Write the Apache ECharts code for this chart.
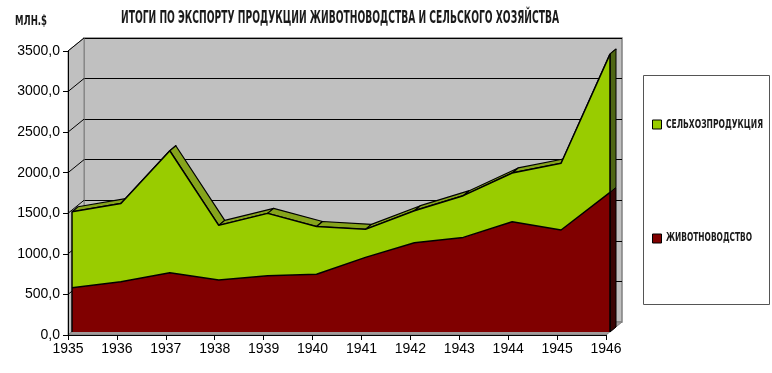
<!DOCTYPE html>
<html><head><meta charset="utf-8">
<script src="https://cdn.jsdelivr.net/npm/echarts@6/dist/echarts.min.js"></script>
<style>html,body{margin:0;padding:0;background:#fff}#c{width:772px;height:373px}</style>
</head><body><div id="c"></div>
<script>
const years = ['1935','1936','1937','1938','1939','1940','1941','1942','1943','1944','1945','1946'];
const livestock = [546, 620, 731, 641, 694, 711, 920, 1100, 1166, 1359, 1257, 1721];
const agri = [936, 965, 1503, 673, 768, 589, 345, 395, 514, 601, 823, 1704];
const yTicks = [0, 500, 1000, 1500, 2000, 2500, 3000, 3500];
const seriesNames = ['ЖИВОТНОВОДСТВО', 'СЕЛЬХОЗПРОДУКЦИЯ'];
const titleText = 'ИТОГИ ПО ЭКСПОРТУ ПРОДУКЦИИ ЖИВОТНОВОДСТВА И СЕЛЬСКОГО ХОЗЯЙСТВА';
const unitText = 'МЛН.$';

const totals = livestock.map((v, i) => v + agri[i]);
const NARROW = '"Liberation Sans Narrow","DejaVu Sans Condensed","Liberation Sans",sans-serif';
const WALL = [16, -13];
const RIB = [6, -5];

function fitScale(text, font, target) {
  const ctx = document.createElement('canvas').getContext('2d');
  ctx.font = font;
  return target / ctx.measureText(text).width;
}
const titleFont = 'bold 17px ' + NARROW;
const unitFont = 'bold 14px ' + NARROW;
const legFont = 'bold 13px ' + NARROW;

const chart = echarts.init(document.getElementById('c'), null, {renderer: 'canvas'});
const add = (p, d) => [p[0] + d[0], p[1] + d[1]];

function scaledText(text, font, x, y, width) {
  return {type: 'text', x: x, y: y, scaleX: fitScale(text, font, width), z: 10,
    style: {text: text, font: font, fill: '#1a1a1a', textVerticalAlign: 'middle'}};
}

chart.setOption({
  animation: false,
  backgroundColor: '#fff',
  graphic: [
    scaledText(titleText, titleFont, 121, 19, 438),
    scaledText(unitText, unitFont, 15, 21, 32),
    {type: 'rect', z: 0, shape: {x: 643.5, y: 75.5, width: 126, height: 229},
     style: {fill: '#fff', stroke: '#555', lineWidth: 1}},
    scaledText(seriesNames[1], legFont, 666, 124.5, 97),
    scaledText(seriesNames[0], legFont, 666, 237.5, 86)
  ],
  legend: {
    orient: 'vertical', left: 652, top: 119.5, itemGap: 104, padding: 0,
    itemWidth: 9, itemHeight: 9, icon: 'rect', z: 5,
    data: [seriesNames[1], seriesNames[0]],
    formatter: () => '',
    itemStyle: {borderColor: '#000', borderWidth: 1},
    textStyle: {fontSize: 9, lineHeight: 9, padding: 0}
  },
  grid: [
    {left: 68, top: 51, width: 538, height: 284, z: 5},
    {left: 84, top: 38, width: 538, height: 284, show: true, backgroundColor: '#c0c0c0', borderColor: '#808080', borderWidth: 1.5, z: 0},
    {left: 72, top: 48, width: 538, height: 284}
  ],
  xAxis: [
    {gridIndex: 0, type: 'category', data: years, boundaryGap: false, z: 6,
     axisLine: {lineStyle: {color: '#000', width: 1}},
     axisTick: {show: true, length: 5, lineStyle: {color: '#000'}},
     axisLabel: {color: '#000', fontSize: 14, fontFamily: 'Liberation Sans, Arial', margin: 7}},
    {gridIndex: 1, type: 'category', data: years, boundaryGap: false, show: false},
    {gridIndex: 2, type: 'category', data: years, boundaryGap: false, show: false}
  ],
  yAxis: [
    {gridIndex: 0, type: 'value', min: 0, max: 3500, interval: 500, z: 6,
     axisLine: {show: true, lineStyle: {color: '#000', width: 1}},
     axisTick: {show: true, length: 5, lineStyle: {color: '#000'}},
     splitLine: {show: false},
     axisLabel: {color: '#000', fontSize: 14, fontFamily: 'Liberation Sans, Arial', margin: 8,
       formatter: v => v.toFixed(1).replace('.', ',')}},
    {gridIndex: 1, type: 'value', min: 0, max: 3500, interval: 500,
     axisLine: {show: false}, axisTick: {show: false}, axisLabel: {show: false},
     splitLine: {show: true, lineStyle: {color: '#000', width: 1}}},
    {gridIndex: 2, type: 'value', min: 0, max: 3500, show: false, splitLine: {show: false}}
  ],
  series: [
    {
      type: 'custom', name: 'walls', xAxisIndex: 0, yAxisIndex: 0, z: 1, silent: true,
      data: yTicks.map(v => [0, v]),
      renderItem: (params, api) => {
        const p = api.coord([0, api.value(1)]);
        const children = [];
        if (params.dataIndex === 0) {
          const b = api.coord([0, 0]);
          const t = api.coord([0, yTicks[yTicks.length - 1]]);
          const rb = api.coord([years.length - 1, 0]);
          children.push({type: 'polygon', shape: {points: [t, add(t, WALL), add(b, WALL), b]},
            style: {fill: '#c0c0c0', stroke: '#808080', lineWidth: 1}});
          children.push({type: 'polygon', shape: {points: [b, add(b, WALL), add(rb, WALL), rb]},
            style: {fill: '#a09a9a', stroke: '#808080', lineWidth: 1}});
        }
        if (params.dataIndex > 0) {
          children.push({type: 'line', shape: {x1: p[0], y1: p[1], x2: p[0] + WALL[0], y2: p[1] + WALL[1]},
            style: {stroke: '#000', lineWidth: 1}});
        }
        return {type: 'group', children};
      }
    },
    {
      type: 'custom', name: 'ribbon', xAxisIndex: 2, yAxisIndex: 2, z: 2, silent: true,
      data: years.map((y, i) => [i, livestock[i], totals[i]]),
      renderItem: (params, api) => {
        const i = params.dataIndex;
        const n = years.length;
        const children = [];
        const top = api.coord([i, totals[i]]);
        if (i < n - 1) {
          const nt = api.coord([i + 1, totals[i + 1]]);
          children.push({type: 'polygon', shape: {points: [top, nt, add(nt, RIB), add(top, RIB)]},
            style: {fill: '#86a41c', stroke: '#000', lineWidth: 1.2, lineJoin: 'round'}});
        } else {
          const b = api.coord([i, 0]);
          const r = api.coord([i, livestock[i]]);
          children.push({type: 'polygon', shape: {points: [b, r, add(r, RIB), add(b, RIB)]},
            style: {fill: '#3a0505', stroke: '#000', lineWidth: 1}});
          children.push({type: 'polygon', shape: {points: [r, top, add(top, RIB), add(r, RIB)]},
            style: {fill: '#4e6614', stroke: '#000', lineWidth: 1}});
        }
        return {type: 'group', children};
      }
    },
    {
      name: seriesNames[0], type: 'line', stack: 'total', xAxisIndex: 2, yAxisIndex: 2, z: 3,
      data: livestock, symbol: 'none', silent: true,
      itemStyle: {color: '#800000'},
      lineStyle: {color: '#000', width: 1.5},
      areaStyle: {color: '#800000', opacity: 1}
    },
    {
      name: seriesNames[1], type: 'line', stack: 'total', xAxisIndex: 2, yAxisIndex: 2, z: 3,
      data: agri, symbol: 'none', silent: true,
      itemStyle: {color: '#99cc00'},
      lineStyle: {color: '#000', width: 1.5},
      areaStyle: {color: '#99cc00', opacity: 1}
    },
    {
      type: 'custom', name: 'edges', xAxisIndex: 2, yAxisIndex: 2, z: 4, silent: true,
      data: [[0, totals[0]], [years.length - 1, totals[years.length - 1]]],
      renderItem: (params, api) => {
        const t = api.coord([api.value(0), api.value(1)]);
        const b = api.coord([api.value(0), 0]);
        return {type: 'line', shape: {x1: b[0], y1: b[1], x2: t[0], y2: t[1]},
          style: {stroke: '#000', lineWidth: 1.5}};
      }
    }
  ]
});
</script></body></html>
